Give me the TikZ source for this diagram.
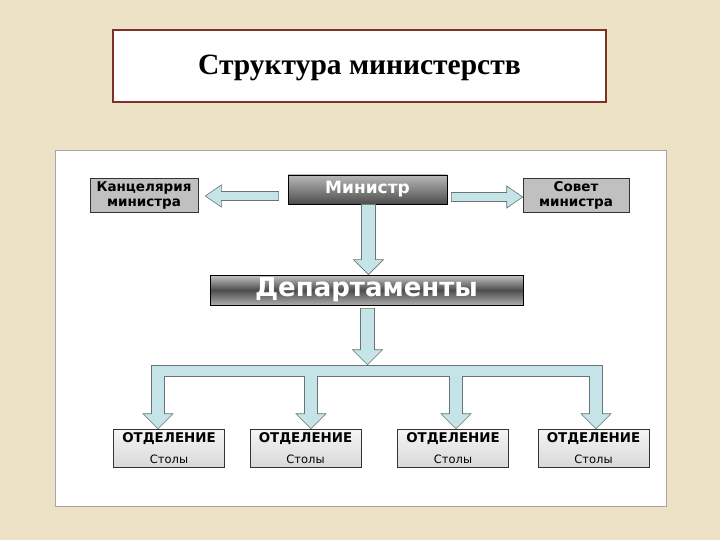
\documentclass[tikz,border=0pt]{standalone}
\usepackage{fontspec}
\setmainfont{Liberation Serif}
\newfontfamily\orgfont{DejaVu Sans}
\usetikzlibrary{calc,positioning}
\definecolor{parchment}{RGB}{238,226,198}
\definecolor{titleframe}{RGB}{128,48,38}
\definecolor{arrowfill}{RGB}{196,228,232}
\definecolor{arrowline}{RGB}{105,115,120}
\definecolor{boxgray}{RGB}{192,192,192}
\tikzset{
  fatarrow/.style={fill=arrowfill, draw=arrowline, line width=0.6pt},
  graybox/.style={draw=black!80, line width=0.6pt, fill=boxgray, inner sep=0pt,
    align=center, font=\orgfont\bfseries\fontsize{13.5}{15}\selectfont},
  darkbox/.style={draw=black, line width=0.7pt, top color=gray!55, bottom color=black!70,
    text=white, inner sep=0pt},
  deptbox/.style={draw=black, line width=0.7pt, top color=gray!45, bottom color=gray!65,
    middle color=black!70, text=white, inner sep=0pt},
  otdbox/.style={draw=black!80, line width=0.6pt, top color=gray!8, bottom color=gray!30,
    minimum height=38pt, inner sep=0pt},
  otdtext/.style={font=\orgfont\bfseries\fontsize{13.4}{15}\selectfont, inner sep=0pt},
  stoltext/.style={font=\orgfont\fontsize{11.5}{13}\selectfont, inner sep=0pt},
}
% #1=start, #2=tip (same x), #3=shaft half width
\newcommand{\FatDown}[3]{%
  \path[fatarrow] let \p1=(#1), \p2=(#2) in
    (\x2-#3,\y1) -- (\x2-#3,\y2+15pt) -- (\x2-15pt,\y2+15pt) -- (\x2,\y2)
    -- (\x2+15pt,\y2+15pt) -- (\x2+#3,\y2+15pt) -- (\x2+#3,\y1) -- cycle;
}
% #1=start, #2=tip (same y)
\newcommand{\FatSide}[2]{%
  \path[fatarrow] let \p1=(#1), \p2=(#2), \n1={sign(\x2-\x1)} in
    (\x1,\y2+4.5pt) -- (\x2-\n1*16pt,\y2+4.5pt) -- (\x2-\n1*16pt,\y2+11pt) -- (\x2,\y2)
    -- (\x2-\n1*16pt,\y2-11pt) -- (\x2-\n1*16pt,\y2-4.5pt) -- (\x1,\y2-4.5pt) -- cycle;
}

\begin{document}
\begin{tikzpicture}[x=1pt,y=-1pt]
    \useasboundingbox (0,0) rectangle (720,540);
    \fill[parchment] (0,0) rectangle (720,540);

    % ---- title
    \draw[titleframe, line width=1.3pt, fill=white] (113,30) rectangle (606,102);
    \node[font=\bfseries\fontsize{29.5}{34}\selectfont] (title) at (359.5,68) {Структура министерств};

    % ---- panel
    \draw[gray!70, line width=0.6pt, fill=white] (55,150) rectangle (666,506);

    \node[darkbox, minimum width=159pt, minimum height=29pt,
      font=\orgfont\bfseries\fontsize{17}{19}\selectfont] (min) at (367.5,189.5) {Министр};
    \node[graybox, minimum width=108pt, minimum height=34pt] (kanc) at (144,195)
      {Канцелярия\\министра};
    \node[graybox, minimum width=106pt, minimum height=34pt] (sovet) at (576,195)
      {Совет\\министра};
    \node[deptbox, minimum width=313pt, minimum height=30pt,
      font=\orgfont\bfseries\fontsize{26}{28}\selectfont] (dept) at (366.5,290) {Департаменты};

    \FatSide{[xshift=-9pt,yshift=-1pt]min.west}{[xshift=7pt,yshift=-1pt]kanc.east}
    \FatSide{[xshift=4pt,yshift=-2pt]min.east}{[yshift=-2pt]sovet.west}
    \FatDown{min.south}{[xshift=2pt]dept.north}{7pt}

    % ---- departments and their arrows
    \foreach \bx/\ax [count=\i] in {169/158, 305.5/311, 453/456, 593.5/596}{
      \node[otdbox, minimum width=111pt] (otd\i) at (\bx,448) {};
      \node[otdtext] (otdT\i) at ($(otd\i.north)+(0,10)$) {ОТДЕЛЕНИЕ};
      \node[stoltext] (otdS\i) at ($(otd\i.north)+(0,30.5)$) {Столы};
      \coordinate (A\i) at (\ax,370);
      \FatDown{A\i}{otd\i.north -| A\i}{6.5pt}
    }
    \node[fatarrow, minimum width=451pt, minimum height=11pt, inner sep=0pt] (bar) at (377,370.5) {};
    \foreach \i in {1,...,4}{
      \fill[arrowfill] ($(A\i)+(-6pt,0.5)$) rectangle ($(A\i)+(6pt,8)$);
    }
    \FatDown{[yshift=-3pt]dept.south}{bar.north -| min.south}{7pt}
\end{tikzpicture}
\end{document}
